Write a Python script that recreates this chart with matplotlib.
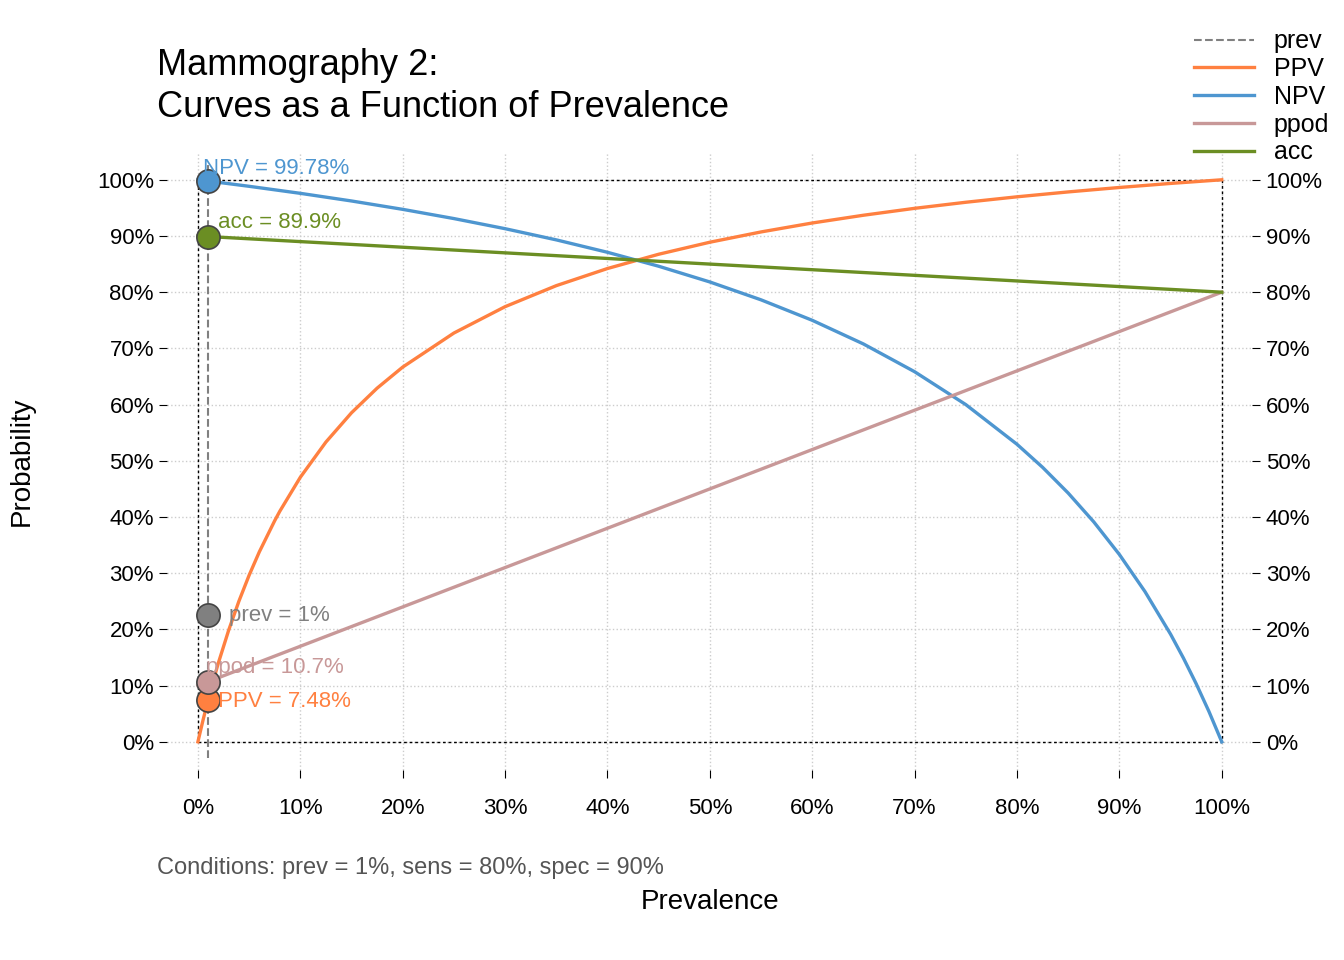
import matplotlib.pyplot as plt
import numpy as np
from matplotlib.ticker import PercentFormatter

plt.rcParams['font.family'] = ['Liberation Sans', 'DejaVu Sans']

# values
ppv_x = [0, .005, .01, .015, .02, .03, .04, .05, .06, .075, .08, .1, .125, .15, .175, .2, .25,
         .3, .35, .4, .45, .5, .55, .6, .65, .7, .75, .8, .85, .9, .95, 1]
ppv_y = [0, .0386, .0748, .1086, .1404, .1983, .25, .2963, .338, .3934, .4103, .4706, .5333,
         .5854, .6292, .6667, .7273, .7742, .8116, .8421, .8675, .8889, .9072, .9231, .9369,
         .9492, .96, .9697, .9784, .9863, .9935, 1]
npv_x = [0, .01, .05, .1, .15, .2, .25, .3, .35, .4, .45, .5, .55, .6, .65, .7, .75, .8, .825,
         .85, .875, .9, .925, .95, .9625, .975, .9875, 1]
npv_y = [1, .9978, .9884, .9759, .9623, .9474, .9310, .9130, .8931, .8710, .8462, .8182, .7864,
         .75, .7079, .6585, .6, .5294, .4884, .4426, .3913, .3333, .2673, .1915, .1492, .1034,
         .0539, 0]
ppod_x = [0, 1]
ppod_y = [.10, .80]
acc_x = [0, 1]
acc_y = [.90, .80]

prev = 0.01
pt_labels = ["prev = 1%", "PPV = 7.48%", "NPV = 99.78%", "ppod = 10.7%", "acc = 89.9%"]
pt_values = [0.225, 0.0748, 0.9978, 0.107, 0.899]

c_prev, c_ppv, c_npv, c_ppod, c_acc = 'grey', '#FF8040', '#4E96D0', '#C89898', '#6B8E23'

fig = plt.figure(figsize=(13.44, 9.6), dpi=100)
ax = fig.add_axes([0.1244, 0.198, 0.8075, 0.644])
ax.set_xlim(-0.03, 1.03)
ax.set_ylim(-0.05, 1.05)
for s in ax.spines.values():
    s.set_visible(False)

ticks = np.linspace(0, 1, 11)
ax.set_xticks(ticks)
ax.set_yticks(ticks)
ax.xaxis.set_major_formatter(PercentFormatter(1, decimals=0))
ax.yaxis.set_major_formatter(PercentFormatter(1, decimals=0))
ax.tick_params(labelsize=16, length=6)
ax.tick_params(axis='x', pad=14)
ax.grid(True, color='#cccccc', linestyle=':', linewidth=1)
ax2 = ax.twinx()
ax2.set_ylim(ax.get_ylim())
ax2.set_yticks(ticks)
ax2.yaxis.set_major_formatter(PercentFormatter(1, decimals=0))
ax2.tick_params(labelsize=16, length=6)
for s in ax2.spines.values():
    s.set_visible(False)

ax.plot([0, 1, 1, 0, 0], [0, 0, 1, 1, 0], color='black', linestyle=(0, (2, 2)), linewidth=1)

ax.axvline(prev, ymin=0.02, ymax=0.98, color=c_prev, linestyle='--', linewidth=1.5, label='prev')
ax.plot(ppv_x, ppv_y, color=c_ppv, lw=2.4, label='PPV')
ax.plot(npv_x, npv_y, color=c_npv, lw=2.4, label='NPV')
ax.plot(ppod_x, ppod_y, color=c_ppod, lw=2.4, label='ppod')
ax.plot(acc_x, acc_y, color=c_acc, lw=2.4, label='acc')

cols = [c_prev, c_ppv, c_npv, c_ppod, c_acc]
offs = [(0.02, 0), (0.01, -0.003), (-0.005, 0.022), (-0.002, 0.025), (0.01, 0.025)]
for lab, v, c, (dx, dy) in zip(pt_labels, pt_values, cols, offs):
    ax.scatter(prev, v, s=280, color=c, edgecolor='#444444', linewidth=1.2, zorder=5)
    ax.text(prev + dx, v + dy, lab, color=c, fontsize=16, va='center', zorder=6)

fig.text(0.117, 0.91, "Mammography 2:\nCurves as a Function of Prevalence", fontsize=26,
         va='center', linespacing=1.25)
ax.set_ylabel("Probability", fontsize=20, labelpad=45)
fig.text(0.528, 0.053, "Prevalence", fontsize=20, ha='center')
fig.text(0.117, 0.09, "Conditions: prev = 1%, sens = 80%, spec = 90%", fontsize=17, color='#555555')

fig.legend(loc='upper right', bbox_to_anchor=(1.0, 0.985), frameon=False, fontsize=18,
           handlelength=2.4, labelspacing=0.15, borderaxespad=0.2)

fig.savefig("out.png", dpi=100)
